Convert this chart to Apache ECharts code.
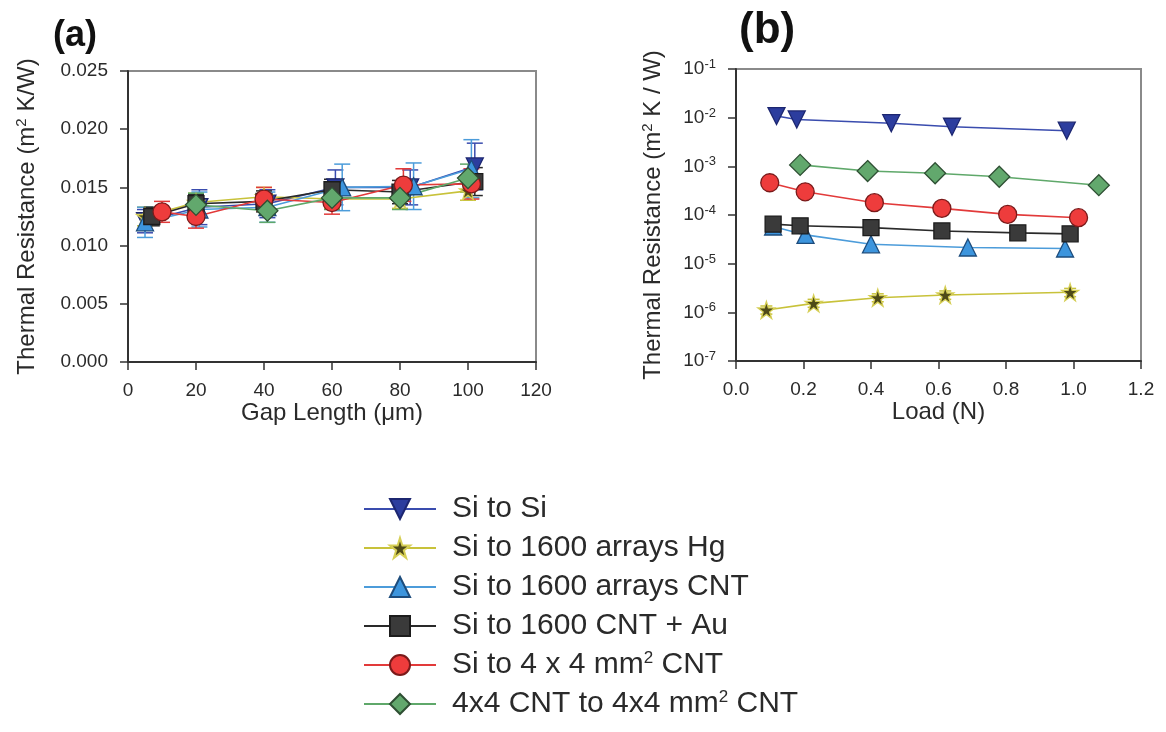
<!DOCTYPE html>
<html>
<head>
<meta charset="utf-8">
<script src="https://cdn.jsdelivr.net/npm/echarts@6/dist/echarts.min.js"></script>
<style>
html,body{margin:0;padding:0;background:#fff;}
#chart{width:1166px;height:732px;}
</style>
</head>
<body>
<div id="chart"></div>
<script>
// ---------------- DATA ----------------
const seriesNames = ['Si to Si', 'Si to 1600 arrays Hg', 'Si to 1600 arrays CNT', 'Si to 1600 CNT + Au', 'Si to 4 x 4 mm² CNT', '4x4 CNT to 4x4 mm² CNT'];

// Panel (a): Thermal resistance vs gap length (µm)
const aSiSiX = [5, 21, 41, 61, 83, 102];
const aSiSiY = [0.0121, 0.0133, 0.0136, 0.0150, 0.0150, 0.0168];
const aSiSiErr = [0.0010, 0.0015, 0.0012, 0.0015, 0.0015, 0.0020];

const aHgX = [5, 20, 40, 60, 80, 100];
const aHgY = [0.0125, 0.0137, 0.0142, 0.0140, 0.0140, 0.0147];
const aHgErr = [0.0008, 0.0008, 0.0008, 0.0008, 0.0008, 0.0008];

const aCntX = [5, 21, 41, 63, 84, 101];
const aCntY = [0.0120, 0.0131, 0.0133, 0.0150, 0.0151, 0.0166];
const aCntErr = [0.0013, 0.0015, 0.0013, 0.0020, 0.0020, 0.0025];

const aAuX = [7, 20, 40, 60, 80, 102];
const aAuY = [0.0125, 0.0136, 0.0138, 0.0148, 0.0146, 0.0155];
const aAuErr = [0.0008, 0.0008, 0.0009, 0.0009, 0.0010, 0.0012];

const aRedX = [10, 20, 40, 60, 81, 101];
const aRedY = [0.0129, 0.0125, 0.0140, 0.0137, 0.0152, 0.0153];
const aRedErr = [0.0009, 0.0010, 0.0010, 0.0010, 0.0014, 0.0013];

const aGreenX = [20, 41, 60, 80, 100];
const aGreenY = [0.0135, 0.0130, 0.0141, 0.0141, 0.0158];
const aGreenErr = [0.0010, 0.0010, 0.0010, 0.0010, 0.0012];

// Panel (b): Thermal resistance vs load (N), log scale
const bSiSiX = [0.12, 0.18, 0.46, 0.64, 0.98];
const bSiSiY = [0.0108, 0.0092, 0.0077, 0.0065, 0.0054];

const bHgX = [0.09, 0.23, 0.42, 0.62, 0.99];
const bHgY = [1.12e-6, 1.53e-6, 2.0e-6, 2.27e-6, 2.58e-6];
const bHgLo = [0.92e-6, 1.27e-6, 1.65e-6, 1.85e-6, 2.1e-6];
const bHgHi = [1.35e-6, 1.85e-6, 2.4e-6, 2.75e-6, 3.1e-6];

const bCntX = [0.11, 0.206, 0.40, 0.687, 0.975];
const bCntY = [5.8e-5, 3.9e-5, 2.5e-5, 2.15e-5, 2.05e-5];

const bAuX = [0.11, 0.19, 0.40, 0.61, 0.835, 0.99];
const bAuY = [6.5e-5, 6.0e-5, 5.5e-5, 4.7e-5, 4.3e-5, 4.1e-5];

const bRedX = [0.10, 0.205, 0.41, 0.61, 0.805, 1.015];
const bRedY = [4.6e-4, 3.0e-4, 1.79e-4, 1.37e-4, 1.03e-4, 8.8e-5];

const bGreenX = [0.19, 0.39, 0.59, 0.78, 1.075];
const bGreenY = [1.07e-3, 8.0e-4, 7.2e-4, 6.1e-4, 4.1e-4];

// ---------------- STYLE ----------------
const FONT = 'Liberation Sans, Arial, sans-serif';
const TXT = '#2a2a2a';
const STAR = 'path://M50,0 L61.2,34.5 L97.6,34.5 L68.2,55.9 L79.4,90.5 L50,69.1 L20.6,90.5 L31.8,55.9 L2.4,34.5 L38.8,34.5 Z';
const styles = [
  {line: '#3a4cae', fill: '#2c3d9e', border: '#1c2670', symbol: 'triangle', rotate: 180, size: 17},
  {line: '#c8c23a', fill: '#4e4a18', border: '#d6cf55', symbol: STAR, rotate: 0, size: 17},
  {line: '#4c9cda', fill: '#3d95dd', border: '#1d4c7c', symbol: 'triangle', rotate: 0, size: 17},
  {line: '#2a2a2a', fill: '#3a3a3a', border: '#1c1c1c', symbol: 'rect', rotate: 0, size: 16},
  {line: '#e23a3a', fill: '#ee3c3c', border: '#7a1a1a', symbol: 'circle', rotate: 0, size: 18},
  {line: '#5fa86a', fill: '#62a86d', border: '#2e4f33', symbol: 'diamond', rotate: 0, size: 21}
];

function zip(xs, ys) { return xs.map((x, i) => [x, ys[i]]); }

function lineSeries(idx, xs, ys, gi) {
  const s = styles[idx];
  return {
    name: seriesNames[idx], type: 'line', xAxisIndex: gi, yAxisIndex: gi,
    data: zip(xs, ys), symbol: s.symbol, symbolRotate: s.rotate, symbolSize: s.size,
    lineStyle: {color: s.line, width: 1.6},
    itemStyle: {color: s.fill, borderColor: s.border, borderWidth: 1.3},
    z: 3, animation: false
  };
}

function errSeries(idx, xs, los, his, gi, capHalf) {
  const color = styles[idx].line;
  return {
    type: 'custom', xAxisIndex: gi, yAxisIndex: gi, z: 2, animation: false,
    data: xs.map((x, i) => [x, los[i], his[i]]),
    encode: {x: 0, y: [1, 2]},
    renderItem: function (params, api) {
      const x = api.value(0);
      const lo = api.coord([x, api.value(1)]);
      const hi = api.coord([x, api.value(2)]);
      const st = {stroke: color, lineWidth: 1.5};
      return {type: 'group', children: [
        {type: 'line', shape: {x1: lo[0], y1: lo[1], x2: hi[0], y2: hi[1]}, style: st},
        {type: 'line', shape: {x1: lo[0] - capHalf, y1: lo[1], x2: lo[0] + capHalf, y2: lo[1]}, style: st},
        {type: 'line', shape: {x1: hi[0] - capHalf, y1: hi[1], x2: hi[0] + capHalf, y2: hi[1]}, style: st}
      ]};
    }
  };
}

function lows(ys, es) { return ys.map((y, i) => y - es[i]); }
function highs(ys, es) { return ys.map((y, i) => y + es[i]); }

const axisLineDark = {show: true, lineStyle: {color: '#333', width: 2}};
const tickStyle = {show: true, inside: false, length: 8, lineStyle: {color: '#333', width: 1.5}};
const labelBase = {fontFamily: FONT, fontSize: 19, color: TXT};
const nameBase = {fontFamily: FONT, fontSize: 24, color: TXT};
const supRich = {s: {fontFamily: FONT, fontSize: 15, color: TXT, padding: [0, 0, 11, 0]}};

const series = [
  // panel (b) first (legend icons)
  lineSeries(0, bSiSiX, bSiSiY, 1),
  lineSeries(1, bHgX, bHgY, 1),
  lineSeries(2, bCntX, bCntY, 1),
  lineSeries(3, bAuX, bAuY, 1),
  lineSeries(4, bRedX, bRedY, 1),
  lineSeries(5, bGreenX, bGreenY, 1),
  errSeries(1, bHgX, bHgLo, bHgHi, 1, 6),
  // panel (a) error bars
  errSeries(0, aSiSiX, lows(aSiSiY, aSiSiErr), highs(aSiSiY, aSiSiErr), 0, 8),
  errSeries(1, aHgX, lows(aHgY, aHgErr), highs(aHgY, aHgErr), 0, 8),
  errSeries(2, aCntX, lows(aCntY, aCntErr), highs(aCntY, aCntErr), 0, 8),
  errSeries(3, aAuX, lows(aAuY, aAuErr), highs(aAuY, aAuErr), 0, 8),
  errSeries(4, aRedX, lows(aRedY, aRedErr), highs(aRedY, aRedErr), 0, 8),
  errSeries(5, aGreenX, lows(aGreenY, aGreenErr), highs(aGreenY, aGreenErr), 0, 8),
  // panel (a) lines
  lineSeries(0, aSiSiX, aSiSiY, 0),
  lineSeries(1, aHgX, aHgY, 0),
  lineSeries(2, aCntX, aCntY, 0),
  lineSeries(3, aAuX, aAuY, 0),
  lineSeries(4, aRedX, aRedY, 0),
  lineSeries(5, aGreenX, aGreenY, 0)
];

const option = {
  backgroundColor: '#ffffff',
  animation: false,
  textStyle: {fontFamily: FONT},
  grid: [
    {left: 128, top: 71, width: 408, height: 291, show: true, borderColor: '#8a8a8a', borderWidth: 2, containLabel: false},
    {left: 736, top: 69, width: 405, height: 292, show: true, borderColor: '#8a8a8a', borderWidth: 2, containLabel: false}
  ],
  xAxis: [
    {
      type: 'value', gridIndex: 0, min: 0, max: 120, interval: 20,
      axisLine: axisLineDark, axisTick: tickStyle, splitLine: {show: false},
      axisLabel: Object.assign({margin: 19}, labelBase),
      name: 'Gap Length (μm)', nameLocation: 'middle', nameGap: 34, nameTextStyle: nameBase
    },
    {
      type: 'value', gridIndex: 1, min: 0, max: 1.2, interval: 0.2,
      axisLine: axisLineDark, axisTick: tickStyle, splitLine: {show: false},
      axisLabel: Object.assign({margin: 19, formatter: v => v.toFixed(1)}, labelBase),
      name: 'Load (N)', nameLocation: 'middle', nameGap: 34, nameTextStyle: nameBase
    }
  ],
  yAxis: [
    {
      type: 'value', gridIndex: 0, min: 0, max: 0.025, interval: 0.005,
      axisLine: axisLineDark, axisTick: tickStyle, splitLine: {show: false},
      axisLabel: Object.assign({margin: 20, formatter: v => v.toFixed(3)}, labelBase),
      name: 'Thermal Resistance (m{s|2} K/W)', nameLocation: 'middle', nameGap: 88,
      nameTextStyle: Object.assign({rich: supRich}, nameBase)
    },
    {
      type: 'log', logBase: 10, gridIndex: 1, min: 1e-7, max: 1e-1, interval: 1,
      axisLine: axisLineDark, axisTick: tickStyle, minorTick: {show: false}, splitLine: {show: false},
      axisLabel: Object.assign({
        margin: 20,
        formatter: v => '10{s|' + Math.round(Math.log10(v)) + '}',
        rich: {s: {fontFamily: FONT, fontSize: 13, color: TXT, padding: [0, 0, 9, 0]}}
      }, labelBase),
      name: 'Thermal Resistance (m{s|2} K / W)', nameLocation: 'middle', nameGap: 70,
      nameTextStyle: Object.assign({rich: supRich}, nameBase)
    }
  ],
  legend: {
    orient: 'vertical', left: 358, top: 489,
    itemWidth: 72, itemHeight: 25, itemGap: 9,
    data: seriesNames,
    formatter: name => name.replace('²', '{s|2}'),
    textStyle: {
      fontFamily: FONT, fontSize: 30, color: TXT, lineHeight: 30, padding: [0, 0, 0, 11],
      rich: {s: {fontFamily: FONT, fontSize: 17, color: TXT, padding: [0, 0, 13, 0]}}
    }
  },
  graphic: [
    {type: 'text', left: 53, top: 18, style: {text: '(a)', font: 'bold 36px ' + FONT, fill: '#111'}},
    {type: 'text', left: 739, top: 9, style: {text: '(b)', font: 'bold 44px ' + FONT, fill: '#111'}}
  ],
  series: series
};

const chart = echarts.init(document.getElementById('chart'), null, {renderer: 'canvas'});
chart.setOption(option);
</script>
</body>
</html>
